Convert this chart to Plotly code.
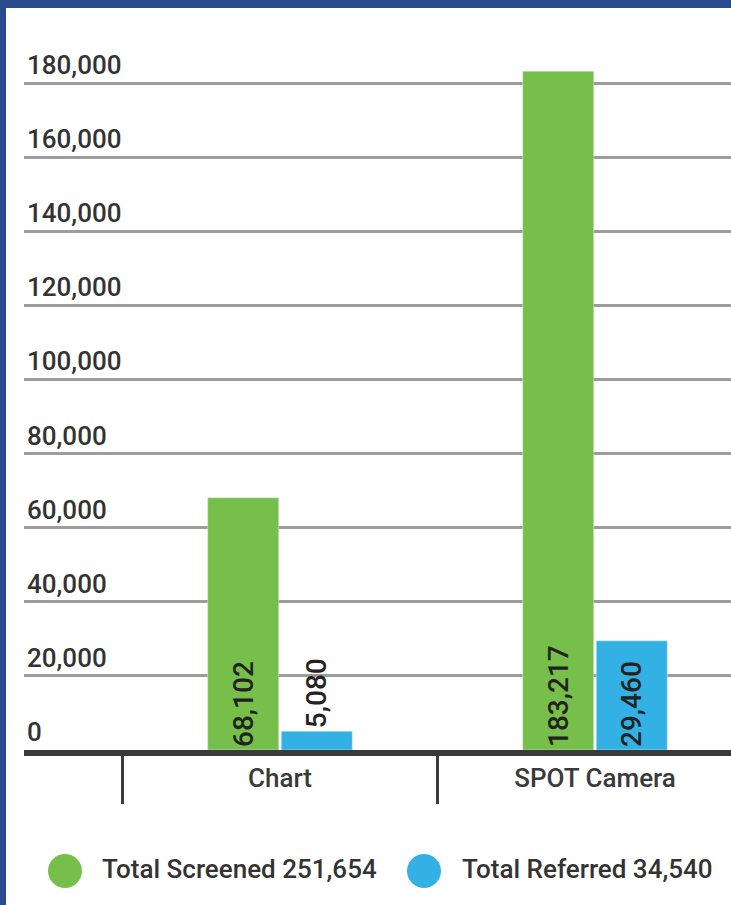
import plotly.graph_objects as go

categories = ["Chart", "SPOT Camera"]
screened = [68102, 183217]
referred = [5080, 29460]
series_names = ["Total Screened", "Total Referred"]
series_totals = ["251,654", "34,540"]
y_tickvals = [0, 20000, 40000, 60000, 80000, 100000, 120000, 140000, 160000, 180000, 200000]
y_ticktext = ["0", "20,000", "40,000", "60,000", "80,000", "100,000", "120,000",
              "140,000", "160,000", "180,000", ""]

GREEN = "#77BF4B"
BLUE = "#33B1E5"
FRAME = "#2A4A90"
FONT = "Roboto, Arial, sans-serif"

W, H = 731, 905
L, R, T, B = 24, 0, 8, 155
pw, ph = W - L - R, H - T - B

def px_x(p):
    return (p - L) / pw

def px_y(p):
    return (H - B - p) / ph

bar_font = dict(size=28, color="#222222", family=FONT, weight=500)

fig = go.Figure()
fig.add_trace(go.Bar(
    x=categories, y=screened, name=series_names[0], marker_color=GREEN,
    text=[f"{v:,}" for v in screened], textposition="auto", textangle=-90,
    insidetextanchor="start", textfont=bar_font, outsidetextfont=bar_font,
    showlegend=False, cliponaxis=False,
))
fig.add_trace(go.Bar(
    x=categories, y=referred, name=series_names[1], marker_color=BLUE,
    text=[f"{v:,}" for v in referred], textposition="auto", textangle=-90,
    insidetextanchor="start", textfont=bar_font, outsidetextfont=bar_font,
    showlegend=False, cliponaxis=False,
))
# invisible helper trace for boundary tick marks axis
fig.add_trace(go.Scatter(
    x=categories, y=[0, 0], xaxis="x2", mode="markers",
    marker=dict(opacity=0), showlegend=False, hoverinfo="skip",
))

x0 = -(280 - L) / 315
x1 = x0 + pw / 315

fig.update_layout(
    width=W, height=H,
    margin=dict(l=L, r=R, t=T, b=B),
    paper_bgcolor="white", plot_bgcolor="white",
    barmode="group", bargap=0.533, bargroupgap=0.034,
    font=dict(family=FONT, color="#333333"),
    showlegend=False,
    xaxis=dict(
        type="category", range=[x0, x1], showgrid=False, zeroline=False,
        showline=True, linewidth=6, linecolor="#3a3a3a", ticks="",
        tickfont=dict(size=26, color="#3a3a3a", weight=500), ticklabelstandoff=0,
    ),
    xaxis2=dict(
        type="category", overlaying="x", range=[x0, x1], anchor="y", side="bottom",
        ticks="outside", tickson="boundaries", ticklen=53, tickwidth=2.5,
        tickcolor="#3a3a3a", showticklabels=False, showgrid=False, zeroline=False,
        showline=False,
    ),
    yaxis=dict(
        range=[0, 200270], tickvals=y_tickvals, ticktext=y_ticktext,
        ticklabelposition="inside top", tickfont=dict(size=26, color="#333333", weight=500),
        showgrid=True, gridcolor="#9c9c9c", gridwidth=3, zeroline=False,
        showline=False, ticks="",
    ),
)

shapes = []
# frame border (left and top)
shapes.append(dict(type="rect", xref="paper", yref="paper",
                   x0=px_x(0), x1=px_x(6), y0=px_y(H), y1=px_y(0),
                   fillcolor=FRAME, line_width=0, layer="above"))
shapes.append(dict(type="rect", xref="paper", yref="paper",
                   x0=px_x(0), x1=px_x(W), y0=px_y(8), y1=px_y(0),
                   fillcolor=FRAME, line_width=0, layer="above"))
# legend markers
legend_cx = [65, 424]
legend_colors = [GREEN, BLUE]
r = 17
for cx, col in zip(legend_cx, legend_colors):
    shapes.append(dict(type="circle", xref="paper", yref="paper",
                       x0=px_x(cx - r), x1=px_x(cx + r), y0=px_y(871 + r), y1=px_y(871 - r),
                       fillcolor=col, line_width=0))
fig.update_layout(shapes=shapes)

legend_tx = [100, 460]
for tx, name, tot in zip(legend_tx, series_names, series_totals):
    fig.add_annotation(xref="paper", yref="paper", x=px_x(tx), y=px_y(869),
                       text=f"{name} {tot}", showarrow=False, xanchor="left", yanchor="middle",
                       font=dict(size=26, color="#333333", family=FONT, weight=500))

fig.write_html("out.html", config={"displayModeBar": False},
               post_script="document.body.style.margin='0';document.body.style.overflow='hidden';")
